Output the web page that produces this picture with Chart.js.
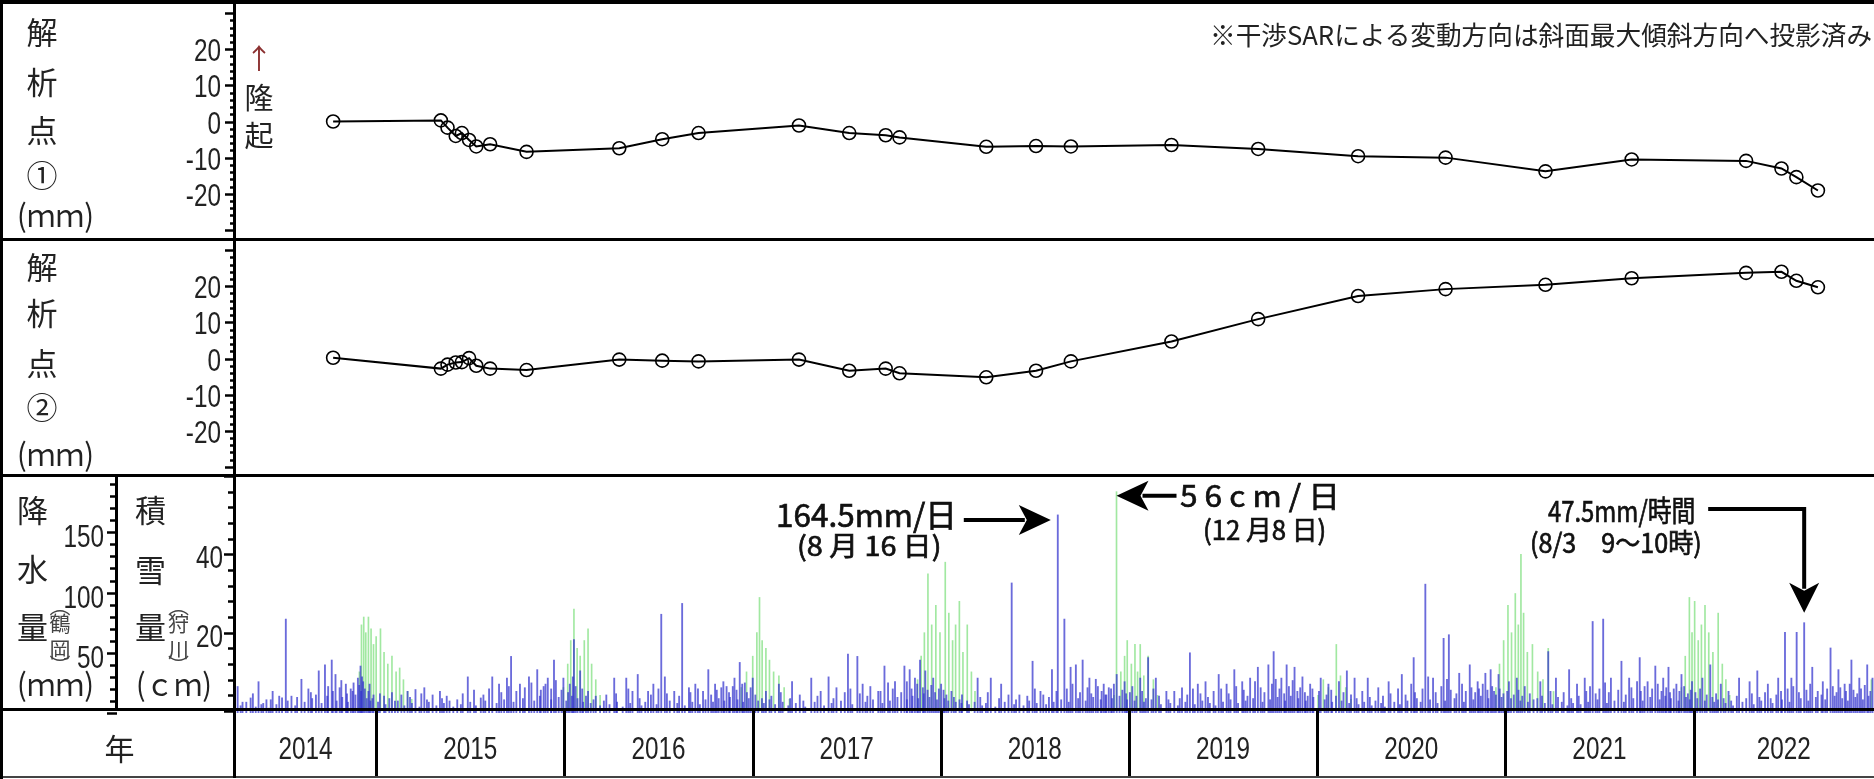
<!DOCTYPE html>
<html><head><meta charset="utf-8">
<script src="https://cdn.jsdelivr.net/npm/chart.js@4.4.1/dist/chart.umd.min.js"></script>
<style>
html,body{margin:0;padding:0;background:#fff;}
#wrap{position:relative;width:1874px;height:779px;overflow:hidden;background:#fff;}
canvas{position:absolute;left:0;}
.ln{position:absolute;background:#000;z-index:5;}
.lab{position:absolute;white-space:nowrap;transform-origin:0 0;font-family:'Noto Sans CJK JP',sans-serif;color:#222;line-height:1;z-index:6;}
</style></head><body>
<div id="wrap">
<canvas id="c1" width="1874" height="233" style="top:5px"></canvas>
<canvas id="c2" width="1874" height="233" style="top:242px"></canvas>
<canvas id="c3" width="1874" height="303" style="top:476px"></canvas>
</div>
<script>
// ---------------- DATA ----------------
const sarDates = ["2014-10-10","2015-05-08","2015-05-21","2015-06-06","2015-06-18","2015-07-02","2015-07-16","2015-08-12","2015-10-22","2016-04-20","2016-07-13","2016-09-22","2017-04-06","2017-07-13","2017-09-22","2017-10-19","2018-04-06","2018-07-12","2018-09-18","2019-04-02","2019-09-18","2020-03-31","2020-09-18","2021-04-01","2021-09-16","2022-04-27","2022-07-05","2022-08-03","2022-09-14"];
const point1MM = [0,0.3,-1.7,-4.0,-3.2,-5.1,-6.9,-6.3,-8.4,-7.4,-4.9,-3.2,-1.1,-3.2,-3.8,-4.4,-7.0,-6.8,-6.9,-6.5,-7.6,-9.6,-10.0,-13.8,-10.5,-10.9,-13.0,-15.4,-19.1];
const point2MM = [0.2,-2.8,-1.7,-1.1,-1.0,0.1,-2.0,-2.8,-3.2,-0.3,-0.6,-0.8,-0.3,-3.4,-2.8,-4.1,-5.2,-3.4,-0.8,4.7,10.9,17.3,19.2,20.4,22.2,23.7,24.0,21.5,19.7];
const years = [2014,2015,2016,2017,2018,2019,2020,2021,2022];
const xStartYear = 2014.25, xEndYear = 2022.959;
const pointTicks = [-20,-10,0,10,20];
const precipTicks = [50,100,150];
const snowTicks = [20,40];

const precipPeakYear = [2014.264,2014.333,2014.375,2014.417,2014.450,2014.500,2014.520,2014.550,2014.603,2014.653,2014.695,2014.728,2014.764,2014.784,2014.806,2014.839,2014.875,2014.903,2014.917,2014.931,2014.959,2014.986,
2015.042,2015.084,2015.134,2015.167,2015.209,2015.256,2015.300,2015.339,2015.375,2015.431,2015.487,2015.556,2015.617,2015.653,2015.695,2015.717,2015.764,2015.812,2015.856,2015.890,2015.912,2015.945,2015.995,
2016.029,2016.051,2016.084,2016.126,2016.167,2016.223,2016.265,2016.329,2016.362,2016.390,2016.445,2016.473,2016.515,2016.534,2016.584,2016.626,2016.662,2016.696,2016.737,2016.765,2016.801,2016.834,2016.862,2016.904,2016.932,2016.959,
2017.001,2017.071,2017.140,2017.210,2017.251,2017.312,2017.362,2017.404,2017.446,2017.507,2017.557,2017.585,2017.626,2017.668,2017.701,2017.757,2017.807,2017.835,2017.863,2017.890,2017.918,2017.960,
2018.002,2018.057,2018.113,2018.196,2018.266,2018.321,2018.377,2018.418,2018.488,2018.530,2018.591,2018.622,2018.657,2018.690,2018.718,2018.754,2018.790,2018.824,2018.866,2018.893,2018.935,2018.977,
2019.018,2019.060,2019.102,2019.143,2019.199,2019.241,2019.282,2019.324,2019.366,2019.407,2019.477,2019.519,2019.560,2019.602,2019.644,2019.685,2019.741,2019.769,2019.810,2019.838,2019.880,2019.922,2019.963,
2020.019,2020.060,2020.116,2020.158,2020.199,2020.269,2020.325,2020.380,2020.450,2020.513,2020.575,2020.616,2020.672,2020.700,2020.755,2020.811,2020.853,2020.894,2020.922,2020.964,
2021.019,2021.061,2021.103,2021.186,2021.228,2021.269,2021.339,2021.381,2021.422,2021.464,2021.520,2021.561,2021.617,2021.658,2021.714,2021.756,2021.797,2021.839,2021.867,2021.909,2021.936,2021.992,
2022.047,2022.089,2022.145,2022.186,2022.242,2022.298,2022.339,2022.395,2022.450,2022.486,2022.520,2022.548,2022.588,2022.631,2022.687,2022.728,2022.770,2022.803,2022.839,2022.881,2022.923,2022.951];
const precipPeakMM = [22,12.5,26,11,18,12.5,78,14,28,17,35,40,44,32,21,24,18,29,39,26,18,15,
14,17,15,18,19.5,21,15,18,14,11,30,12.5,30,24,29,47,24,30,36,22,29,44,29,
24,61,35,18,14,15,29,29,18,32,18,24,82,30,18,91,21,24,18,36,24,21,22,29,42,25,
29,18,24,26,15,29,18,30,21,49,47,24,22,18,39,26,39,36,29,44,35,29,
24,18,15,29,29,24,108,15,43,18,36,164.5,78,38,40,44,29,28,24,21,32,26,
22,29,46,29,18,18,21,50,24,26,32,24,36,26,29,38,40,51,29,40,38,30,24,
29,24,26,35,29,29,21,26,32,46,107,29,62,65,33,40,26,33,36,32,
26,29,22,26,51,29,36,24,29,76,78,29,43,29,46,26,39,29,38,24,32,26,
29,40,24,18,29,26,35,24,29,67,29,67,75,38,26,54,36,24,44,29,40,29];

const precipMidYear = [2014.29,2014.345,2014.39,2014.44,2014.485,2014.58,2014.64,2014.68,2014.745,2014.77,2014.815,2014.845,2014.865,2014.88,2014.91,2014.925,2014.94,2014.965,2014.98,
2015.02,2015.07,2015.115,2015.18,2015.24,2015.27,2015.35,2015.39,2015.46,2015.52,2015.57,2015.60,2015.665,2015.705,2015.745,2015.79,2015.825,2015.875,2015.90,2015.93,2015.955,2015.985,
2016.02,2016.045,2016.06,2016.095,2016.115,2016.155,2016.21,2016.275,2016.34,2016.40,2016.46,2016.50,2016.545,2016.61,2016.67,2016.71,2016.78,2016.81,2016.845,2016.875,2016.895,2016.915,2016.945,2016.97,2016.99,
2017.015,2017.05,2017.10,2017.15,2017.20,2017.27,2017.345,2017.43,2017.49,2017.52,2017.57,2017.61,2017.68,2017.72,2017.745,2017.79,2017.82,2017.845,2017.875,2017.905,2017.93,2017.95,2017.97,2017.99,
2018.015,2018.03,2018.07,2018.10,2018.14,2018.21,2018.25,2018.31,2018.36,2018.40,2018.46,2018.50,2018.545,2018.575,2018.615,2018.67,2018.70,2018.74,2018.78,2018.80,2018.835,2018.855,2018.875,2018.905,2018.92,2018.965,2018.985,
2019.005,2019.04,2019.07,2019.09,2019.13,2019.16,2019.21,2019.27,2019.31,2019.34,2019.38,2019.42,2019.45,2019.49,2019.53,2019.57,2019.61,2019.63,2019.67,2019.70,2019.72,2019.76,2019.78,2019.80,2019.825,2019.85,2019.87,2019.895,2019.91,2019.935,2019.95,2019.975,
2020.01,2020.05,2020.075,2020.10,2020.14,2020.18,2020.21,2020.24,2020.28,2020.31,2020.35,2020.39,2020.43,2020.47,2020.50,2020.52,2020.56,2020.59,2020.63,2020.66,2020.69,2020.71,2020.74,2020.77,2020.79,2020.82,2020.84,2020.86,2020.88,2020.905,2020.93,2020.94,2020.97,2020.99,
2021.01,2021.045,2021.07,2021.09,2021.13,2021.17,2021.195,2021.24,2021.28,2021.31,2021.35,2021.39,2021.43,2021.45,2021.48,2021.50,2021.53,2021.55,2021.60,2021.64,2021.67,2021.70,2021.72,2021.74,2021.78,2021.81,2021.83,2021.855,2021.875,2021.895,2021.925,2021.95,2021.97,2021.985,
2022.01,2022.035,2022.07,2022.10,2022.12,2022.16,2022.20,2022.23,2022.28,2022.31,2022.35,2022.38,2022.41,2022.44,2022.465,2022.50,2022.53,2022.56,2022.60,2022.62,2022.66,2022.68,2022.71,2022.74,2022.76,2022.78,2022.81,2022.83,2022.85,2022.87,2022.89,2022.91,2022.94];
const precipMidMM = [9,16,7,11,14,13,20,15,22,18,27,16,20,25,23,30,20,24,12,
16,12,10,13,16,11,12,10,16,19,15,20,17,22,18,21,25,19,24,20,27,19,
17,30,22,20,14,11,10,16,20,12,15,20,16,14,17,20,15,19,26,17,22,19,24,17,21,
15,12,14,17,12,10,14,12,17,20,16,14,18,25,20,17,26,20,24,21,19,23,17,20,
19,15,13,11,10,13,17,12,15,11,14,20,15,13,18,20,24,17,21,16,22,18,15,20,24,19,16,
17,14,18,12,20,14,11,12,15,20,16,13,18,20,16,22,19,14,26,21,17,24,28,20,16,22,27,18,21,17,14,20,
18,15,19,14,17,15,12,18,13,10,14,16,20,15,24,17,20,30,17,22,28,19,16,24,18,21,17,20,24,19,22,18,20,16,
18,15,19,14,16,12,14,18,13,17,12,14,18,22,16,20,25,17,19,15,21,26,18,22,20,24,18,21,17,20,18,22,16,19,
17,20,15,13,16,12,10,14,12,16,13,17,12,15,18,20,22,17,19,24,18,15,20,22,17,21,18,24,19,16,20,23,18];

const precipLowYear = [2014.28,2014.31,2014.36,2014.40,2014.43,2014.47,2014.53,2014.57,2014.62,2014.66,2014.71,2014.74,2014.79,2014.82,2014.85,2014.89,2014.92,2014.95,2014.97,
2015.01,2015.05,2015.10,2015.15,2015.19,2015.23,2015.28,2015.32,2015.36,2015.41,2015.45,2015.50,2015.53,2015.58,2015.64,2015.68,2015.73,2015.78,2015.84,2015.87,2015.93,2015.97,
2016.01,2016.04,2016.07,2016.10,2016.14,2016.19,2016.24,2016.28,2016.31,2016.35,2016.41,2016.43,2016.49,2016.56,2016.60,2016.64,2016.68,2016.72,2016.75,2016.79,2016.82,2016.85,2016.88,2016.92,2016.95,2016.98,
2017.03,2017.06,2017.09,2017.12,2017.16,2017.19,2017.23,2017.28,2017.33,2017.38,2017.42,2017.47,2017.53,2017.60,2017.64,2017.69,2017.73,2017.77,2017.82,2017.85,2017.88,2017.91,2017.94,2017.98,
2018.02,2018.04,2018.08,2018.11,2018.15,2018.18,2018.22,2018.24,2018.29,2018.34,2018.39,2018.44,2018.47,2018.51,2018.56,2018.60,2018.64,2018.68,2018.73,2018.77,2018.81,2018.85,2018.88,2018.91,2018.95,2018.99,
2019.03,2019.08,2019.12,2019.17,2019.22,2019.26,2019.30,2019.35,2019.39,2019.43,2019.46,2019.50,2019.54,2019.58,2019.62,2019.66,2019.71,2019.75,2019.79,2019.83,2019.86,2019.90,2019.94,2019.98,
2020.04,2020.08,2020.13,2020.17,2020.22,2020.25,2020.29,2020.34,2020.36,2020.41,2020.44,2020.48,2020.53,2020.55,2020.60,2020.64,2020.68,2020.73,2020.78,2020.83,2020.87,2020.91,2020.95,2020.98,
2021.03,2021.08,2021.12,2021.15,2021.21,2021.25,2021.30,2021.33,2021.36,2021.40,2021.44,2021.49,2021.54,2021.58,2021.63,2021.68,2021.73,2021.77,2021.82,2021.85,2021.88,2021.92,2021.96,2021.98,
2022.02,2022.06,2022.11,2022.13,2022.17,2022.21,2022.26,2022.32,2022.36,2022.42,2022.47,2022.51,2022.57,2022.61,2022.65,2022.70,2022.75,2022.79,2022.82,2022.86,2022.90,2022.93];
const precipLowMM = [6,9,5,8,4,7,10,6,9,12,8,14,10,13,9,15,18,12,10,
9,7,10,6,8,5,9,6,8,5,7,9,6,10,8,11,9,12,10,14,11,13,
10,14,12,9,8,6,7,9,5,8,6,9,7,10,8,6,9,7,11,9,12,10,13,11,9,12,
10,8,11,7,9,6,8,5,9,6,8,10,7,9,11,8,10,13,11,14,12,16,13,11,
12,10,9,8,7,9,6,8,5,9,7,6,10,8,7,9,11,9,12,10,13,11,15,12,14,11,
10,9,11,7,8,6,9,7,10,8,6,9,11,8,10,12,9,11,13,10,14,12,10,13,
11,9,10,8,7,9,6,8,5,9,7,10,12,9,11,8,10,12,9,11,14,12,15,13,
12,10,9,11,8,7,9,6,8,7,9,11,8,10,9,12,10,13,11,14,12,10,13,11,
12,10,9,11,8,6,9,7,10,8,11,9,12,10,13,11,14,12,10,13,11,14];

const snowYear = [2014.911,2014.922,2014.934,2014.945,2014.959,2014.973,2014.986,2015.000,2015.023,2015.042,2015.062,2015.084,2015.106,2015.125,2015.145,2015.167,2015.189,
2015.995,2016.018,2016.034,2016.051,2016.068,2016.084,2016.106,2016.126,2016.145,2016.167,2016.190,
2016.940,2016.968,2017.001,2017.023,2017.037,2017.051,2017.071,2017.090,2017.112,2017.140,2017.168,2017.196,
2017.877,2017.896,2017.913,2017.932,2017.952,2017.974,2017.996,2018.024,2018.043,2018.063,2018.079,2018.099,2018.118,2018.141,2018.163,2018.182,
2018.921,2018.934,2018.957,2018.977,2018.991,2019.013,2019.032,2019.046,2019.060,2019.079,2019.102,2019.130,2019.152,
2020.005,2020.033,2020.060,2020.102,2020.124,2020.152,2020.180,
2020.950,2020.969,2020.991,2021.014,2021.033,2021.053,2021.069,2021.083,2021.097,2021.117,2021.144,2021.172,2021.200,2021.228,2021.256,
2021.936,2021.956,2021.978,2021.992,2022.006,2022.025,2022.042,2022.061,2022.081,2022.103,2022.131,2022.153,2022.172,2022.192,
2022.945];
const snowCM = [10,22,24,20,24,21,17,19,21,15,12,14,10,11,8,5,3,
6,12,18,26,16,14,18,21,12,8,4,
6,10,14,20,29,18,16,13,10,9,6,3,
8,14,20,35,22,27,20,38,25,18,22,28,15,22,10,5,
4,56,10,14,18,12,17,10,17,9,14,8,4,
4,8,6,17,9,6,3,
6,12,18,27,20,30,22,40,25,15,17,10,8,16,5,
6,14,29,20,28,18,22,27,20,15,25,12,8,4,
8];

// ---------------- helpers ----------------
function decYear(s){const [y,m,d]=s.split('-').map(Number);const t0=Date.UTC(y,0,1),t1=Date.UTC(y+1,0,1);return y+(Date.UTC(y,m-1,d)+43200000-t0)/(t1-t0);}
const NUMFONT = "32px 'Liberation Sans', Arial, sans-serif";
const NUMSX = 0.76;
function condText(ctx,text,x,y,align,sx){
  ctx.save(); ctx.translate(x,y); ctx.scale(sx,1); ctx.textAlign=align; ctx.textBaseline='alphabetic'; ctx.fillText(text,0,0); ctx.restore();
}
function axisDeco(specs){
  return {id:'axisDeco', afterDraw(chart){
    const ctx=chart.ctx; ctx.save(); ctx.strokeStyle='#000'; ctx.lineWidth=2.5;
    for(const sp of specs){
      const sc=chart.scales[sp.id];
      for(let v=sp.from; v<=sp.to+1e-9; v+=sp.minor){
        const y=Math.round(sc.getPixelForValue(v))+0.5;
        const major=Math.abs(v/sp.major-Math.round(v/sp.major))<1e-6;
        const len=major?sp.majLen:sp.minLen;
        ctx.beginPath(); ctx.moveTo(sc.right-len,y); ctx.lineTo(sc.right,y); ctx.stroke();
      }
      ctx.fillStyle='#222'; ctx.font=NUMFONT;
      for(const v of sp.labels){ condText(ctx,String(v),sc.right-sp.pad,sc.getPixelForValue(v)+sp.dy,'right',NUMSX); }
    }
    ctx.restore();
  }};
}

function lineChart(id, values){
  return new Chart(document.getElementById(id),{
    type:'line',
    data:{datasets:[{data:sarDates.map((d,i)=>({x:decYear(d),y:values[i]})),borderColor:'#000',borderWidth:2,
      pointRadius:6.5,pointBorderWidth:1.6,pointBorderColor:'#000',pointBackgroundColor:'rgba(0,0,0,0)',tension:0,fill:false}]},
    options:{responsive:false,animation:false,events:[],layout:{padding:0},
      plugins:{legend:{display:false},tooltip:{enabled:false}},
      scales:{
        x:{type:'linear',min:xStartYear,max:xEndYear,display:false,offset:false},
        y:{position:'left',min:-30,max:30,afterFit:s=>{s.width=235;},grid:{display:false,drawTicks:false},border:{display:false},ticks:{display:false,stepSize:10}}
      }},
    plugins:[axisDeco([{id:'y',from:-30,to:30,minor:2,major:10,majLen:10,minLen:5,labels:pointTicks,pad:14,dy:12}])]
  });
}
lineChart('c1',point1MM);
lineChart('c2',point2MM);

function arrowHead(ctx,tx,ty,dir){
  ctx.beginPath();
  if(dir==='r'){ctx.moveTo(tx,ty);ctx.lineTo(tx-32,ty-15);ctx.lineTo(tx-24,ty);ctx.lineTo(tx-32,ty+15);}
  if(dir==='l'){ctx.moveTo(tx,ty);ctx.lineTo(tx+32,ty-15);ctx.lineTo(tx+24,ty);ctx.lineTo(tx+32,ty+15);}
  if(dir==='d'){ctx.moveTo(tx,ty);ctx.lineTo(tx-15,ty-30);ctx.lineTo(tx,ty-22);ctx.lineTo(tx+15,ty-30);}
  ctx.closePath(); ctx.fill();
}
const extrasPlugin={id:'extras',afterDraw(chart){
  const ctx=chart.ctx,xs=chart.scales.x,yP=chart.scales.yP,yS=chart.scales.yS,ca=chart.chartArea;
  ctx.save();
  const rowTop=ca.bottom-2,rowBot=300;
  ctx.fillStyle='#000';
  for(const y of years){ if(y>xStartYear){const px=Math.round(xs.getPixelForValue(y)); ctx.fillRect(px-1,rowTop,3,rowBot-rowTop);} }
  ctx.fillStyle='#222'; ctx.font=NUMFONT;
  for(const y of years){
    const a=Math.max(y,xStartYear),b=Math.min(y+1,xEndYear);
    const cx=(xs.getPixelForValue(a)+xs.getPixelForValue(b))/2;
    condText(ctx,String(y),cx,283,'center',NUMSX);
  }
  ctx.fillStyle='#000'; ctx.strokeStyle='#000'; ctx.lineWidth=4;
  let tx=xs.getPixelForValue(2018.622)-7, ty=yP.getPixelForValue(164.5)+5;
  ctx.beginPath(); ctx.moveTo(tx-87,ty); ctx.lineTo(tx-26,ty); ctx.stroke(); arrowHead(ctx,tx,ty,'r');
  tx=xs.getPixelForValue(2018.934); ty=yS.getPixelForValue(56)+4;
  ctx.beginPath(); ctx.moveTo(tx+26,ty); ctx.lineTo(tx+60,ty); ctx.stroke(); arrowHead(ctx,tx,ty,'l');
  tx=xs.getPixelForValue(2022.588); ty=yP.getPixelForValue(75)-10;
  const hy=33;
  ctx.beginPath(); ctx.moveTo(tx-96,hy); ctx.lineTo(tx,hy); ctx.lineTo(tx,ty-24); ctx.stroke(); arrowHead(ctx,tx,ty,'d');
  ctx.restore();
}};

const precipPoints = precipPeakYear.map((t,i)=>({x:t,y:precipPeakMM[i]}))
  .concat(precipMidYear.map((t,i)=>({x:t,y:precipMidMM[i]})))
  .concat(precipLowYear.map((t,i)=>({x:t,y:precipLowMM[i]})));
new Chart(document.getElementById('c3'),{
  type:'bar',
  data:{datasets:[
    {label:'積雪量',data:snowYear.map((t,i)=>({x:t,y:snowCM[i]})),yAxisID:'yS',backgroundColor:'rgba(110,220,110,0.65)',barThickness:1,grouped:false,order:2},
    {label:'降水量',data:precipPoints,yAxisID:'yP',backgroundColor:'rgba(50,50,205,0.72)',barThickness:1.2,grouped:false,order:1}
  ]},
  options:{responsive:false,animation:false,events:[],layout:{padding:{bottom:66}},
    plugins:{legend:{display:false},tooltip:{enabled:false}},
    scales:{
      x:{type:'linear',min:xStartYear,max:xEndYear,display:false,offset:false},
      yP:{position:'left',weight:2,min:0,max:196.8,afterFit:s=>{s.width=117;},grid:{display:false,drawTicks:false},border:{display:false},ticks:{display:false,stepSize:50}},
      yS:{position:'left',weight:1,min:-0.5,max:60,afterFit:s=>{s.width=118;},grid:{display:false,drawTicks:false},border:{display:false},ticks:{display:false,stepSize:20}}
    }},
  plugins:[axisDeco([{id:'yP',from:0,to:190,minor:10,major:50,majLen:10,minLen:7,labels:precipTicks,pad:13,dy:15},{id:'yS',from:0,to:60,minor:4,major:20,majLen:11,minLen:7,labels:snowTicks,pad:12,dy:14}]),extrasPlugin]
});

// ---------------- static frame & labels ----------------
const wrap=document.getElementById('wrap');
function line(l,t,w,h,c){const d=document.createElement('div');d.className='ln';Object.assign(d.style,{left:l+'px',top:t+'px',width:w+'px',height:h+'px'});if(c)d.style.background=c;wrap.appendChild(d);}
line(0,0,1874,4); line(0,238,1874,3); line(0,474,1874,3); line(0,708,1874,3); line(0,776,1874,2,'#444');
line(0,0,3,779); line(233,0,3,778); line(115,476,3,233);
function lab(text,cx,cy,size,opt){
  opt=opt||{};
  const s=document.createElement('span');s.className='lab';s.textContent=text;s.style.fontSize=size+'px';
  if(opt.weight)s.style.fontWeight=opt.weight; if(opt.color)s.style.color=opt.color; if(opt.stroke)s.style.webkitTextStroke=opt.stroke;
  wrap.appendChild(s);
  const w0=s.offsetWidth; const w=opt.w||w0; const sx=w/w0;
  s.style.left=(cx-w/2)+'px'; s.style.top=(cy-0.556*size)+'px';
  s.style.transform='scaleX('+sx+')';
}
const J=31;
[['解',32.5],['析',82],['点',130],['①',175]].forEach(a=>lab(a[0],42,a[1],J));
lab('(ｍｍ)',55,215,J,{w:77});
[['解',267.5],['析',313],['点',363],['②',407.5]].forEach(a=>lab(a[0],42,a[1],J));
lab('(ｍｍ)',55,454,J,{w:77});
[['降',510],['水',569],['量',627.5]].forEach(a=>lab(a[0],32.5,a[1],J));
[['積',510],['雪',570],['量',627.5]].forEach(a=>lab(a[0],150.5,a[1],J));
[['︵',606],['鶴',624],['岡',650],['︶',666]].forEach(a=>lab(a[0],60,a[1],21,{color:'#444'}));
[['︵',606],['狩',624],['川',650],['︶',666]].forEach(a=>lab(a[0],178.5,a[1],21,{color:'#444'}));
lab('(ｍｍ)',55,684,J,{w:77});
lab('(ｃｍ)',174,684,J,{w:76});
lab('年',119.5,749,30);
lab('↑',259,59,28,{color:'#8b3030'});
lab('隆',259,98,29); lab('起',259,136.5,29);
lab('※干渉SARによる変動方向は斜面最大傾斜方向へ投影済み',1541,35,26,{w:662});
const AN={stroke:'0.7px #111',color:'#111'};
lab('164.5mm/日',866.5,514.5,32,Object.assign({w:181},AN));
lab('(8 月 16 日)',869,546,27,Object.assign({w:144},AN));
lab('5 6 c m / 日',1260,495.5,30,Object.assign({w:160},AN));
lab('(12 月8 日)',1264.5,530,27,Object.assign({w:123},AN));
lab('47.5mm/時間',1621.5,511,29,Object.assign({w:147},AN));
lab('(8/3　9～10時)',1616,543.5,27,Object.assign({w:172},AN));
</script>
</body></html>
